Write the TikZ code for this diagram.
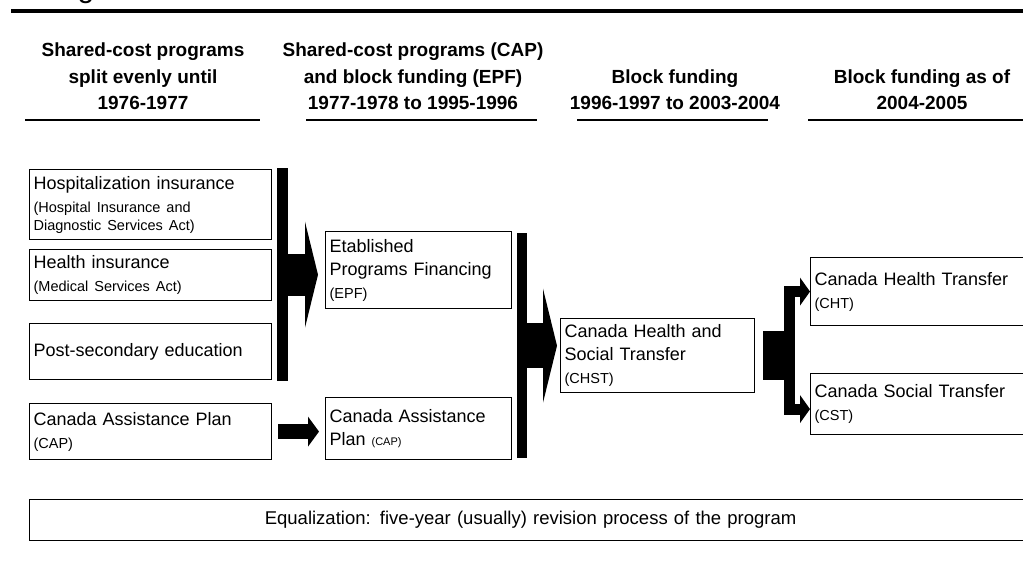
\documentclass[tikz,border=0pt]{standalone}
\usepackage{fontspec}
\setmainfont{Liberation Sans}
\usetikzlibrary{arrows.meta}
\usetikzlibrary{calc}
\usetikzlibrary{positioning}

\newcommand{\smalltext}[1]{{\fontsize{14.5}{17}\selectfont #1}}

\begin{document}
\begin{tikzpicture}[x=1pt,y=-1pt,
  box/.style={draw,line width=1.2pt,anchor=north west,align=left,inner xsep=4pt,inner ysep=0pt,font=\fontsize{18}{23}\selectfont},
  heading/.style={anchor=south,align=center,inner sep=0pt,font=\bfseries\fontsize{19}{26.5}\selectfont},
  bar/.style={fill=black,inner sep=0pt,anchor=north west},
  rule/.style={line width=2pt},
  fatarrow/.style n args={3}{line width=#1,-{Triangle[width=#2,length=#3,line width=0pt]}},
  branch/.style={line width=11pt,line join=miter,-{Triangle[width=28pt,length=10pt,line width=0pt]}}]
	\useasboundingbox (0,0) rectangle (1023,568);
	%title rule
	\node[anchor=base,inner sep=0pt,font=\fontsize{30}{30}\selectfont] (title) at (86,-3) {g};
	\draw[line width=3.5pt] (11,11) -- (1030,11);
	%column headings
	\node[heading] (col1) at (143,110) {Shared-cost programs\\split evenly until\\1976-1977};
	\node[heading] (col2) at (413,110) {Shared-cost programs (CAP)\\and block funding (EPF)\\1977-1978 to 1995-1996};
	\node[heading] (col3) at (675,110) {Block funding\\1996-1997 to 2003-2004};
	\node[heading] (col4) at (922,110) {Block funding as of\\2004-2005};
	\draw[rule] (25,120) -- (260,120);
	\draw[rule] (306,120) -- (537,120);
	\draw[rule] (577,120) -- (768,120);
	\draw[rule] (808,120) -- (1030,120);
	%programs before 1977
	\node[box,text width=234pt,minimum height=70pt] (hosp) at (29,169) {Hospitalization insurance\\\smalltext{(Hospital Insurance and}\\[-5pt]\smalltext{Diagnostic Services Act)}};
	\node[box,text width=234pt,minimum height=51pt] (health) at (29,249) {Health insurance\\\smalltext{(Medical Services Act)}};
	\node[box,text width=234pt,minimum height=56pt] (postsec) at (29,323) {Post-secondary education};
	\node[box,text width=234pt,minimum height=56pt] (cap1) at (29,403) {Canada Assistance Plan\\\smalltext{(CAP)}};
	%EPF and CAP
	\node[bar,minimum width=11pt,minimum height=213pt] (bar1) at (277,168) {};
	\node[box,text width=178pt,minimum height=77pt] (epf) at (325,231) {Etablished\\Programs Financing\\\smalltext{(EPF)}};
	\node[box,text width=178pt,minimum height=62pt] (cap2) at (325,397) {Canada Assistance\\Plan {\fontsize{11}{13}\selectfont (CAP)}};
	\draw[fatarrow={42pt}{106pt}{13pt},shorten >=7pt] (bar1.east) -- (bar1.east -| epf.west);
	\draw[fatarrow={15pt}{30pt}{11pt},shorten <=6pt,shorten >=6pt] (cap1.east) -- (cap1.east -| cap2.west);
	%CHST
	\node[bar,minimum width=10pt,minimum height=225pt] (bar2) at (517,233) {};
	\node[box,text width=186pt,minimum height=74pt] (chst) at (560,318) {Canada Health and\\Social Transfer\\\smalltext{(CHST)}};
	\draw[fatarrow={45pt}{114pt}{14pt},shorten >=3pt] (bar2.east) -- (bar2.east -| chst.west);
	%CHT and CST
	\node[box,text width=222pt,minimum height=68pt] (cht) at (810,257) {Canada Health Transfer\\\smalltext{(CHT)}};
	\node[box,text width=222pt,minimum height=61pt] (cst) at (810,373) {Canada Social Transfer\\\smalltext{(CST)}};
	\coordinate (fork) at ($(chst.east)+(34,0)$);
	\draw[line width=49pt] ([xshift=8pt]chst.east) -- (fork);
	\draw[branch] (fork) |- (cht.west);
	\draw[branch] (fork) |- ([yshift=-5pt]cst.west);
	%equalization
	\node[box,align=center,text width=994pt,minimum height=41pt,font=\fontsize{18.5}{23}\selectfont] (equal) at (29,499) {Equalization: five-year (usually) revision process of the program};
\end{tikzpicture}
\end{document}
